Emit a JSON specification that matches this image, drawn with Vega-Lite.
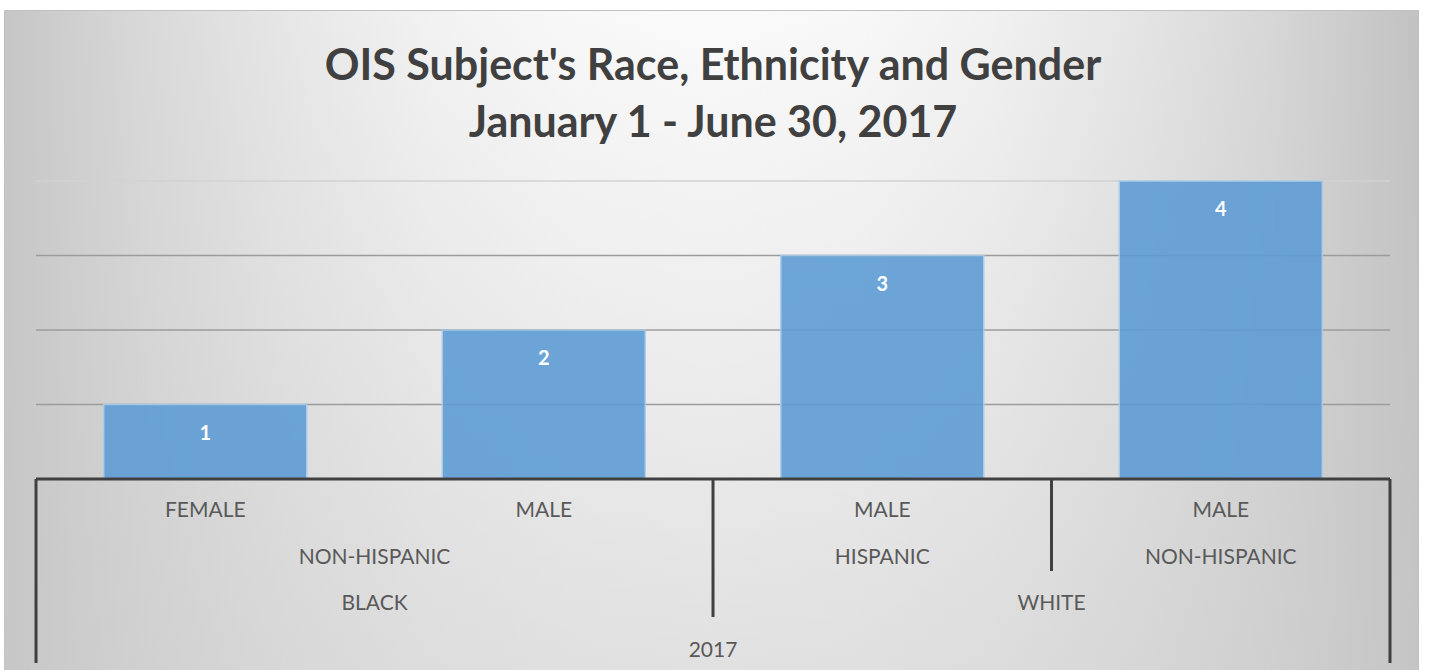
{
  "$schema": "https://vega.github.io/schema/vega-lite/v6.json",
  "width": 1414,
  "height": 660,
  "autosize": {"type": "none"},
  "padding": {"left": 4, "top": 10, "right": 12, "bottom": 0},
  "background": "#ffffff",
  "config": {
    "view": {
      "fill": {"gradient": "linear", "x1": 0, "y1": 0, "x2": 1, "y2": 0,
        "stops": [
          {"offset": 0, "color": "#c6c6c6"},
          {"offset": 0.1, "color": "#d9d9d9"},
          {"offset": 0.2, "color": "#e7e7e7"},
          {"offset": 0.3, "color": "#f2f2f2"},
          {"offset": 0.4, "color": "#f8f8f8"},
          {"offset": 0.5, "color": "#fafafa"},
          {"offset": 0.6, "color": "#f8f8f8"},
          {"offset": 0.7, "color": "#f1f1f1"},
          {"offset": 0.8, "color": "#e5e5e5"},
          {"offset": 0.9, "color": "#d6d6d6"},
          {"offset": 1, "color": "#c2c2c2"}
        ]},
      "stroke": "#c0c0c0",
      "strokeWidth": 1
    }
  },
  "title": {
    "text": ["OIS Subject's Race, Ethnicity and Gender", "January 1 - June 30, 2017"],
    "font": "Lato",
    "fontSize": 43,
    "fontWeight": "bold",
    "color": "#404040",
    "anchor": "middle",
    "lineHeight": 57,
    "offset": -136,
    "dx": 2
  },
  "datasets": {
    "bars": [
      {"key": "BLACK|NON-HISPANIC|FEMALE", "year": "2017", "race": "BLACK", "ethnicity": "NON-HISPANIC", "gender": "FEMALE", "count": 1},
      {"key": "BLACK|NON-HISPANIC|MALE", "year": "2017", "race": "BLACK", "ethnicity": "NON-HISPANIC", "gender": "MALE", "count": 2},
      {"key": "WHITE|HISPANIC|MALE", "year": "2017", "race": "WHITE", "ethnicity": "HISPANIC", "gender": "MALE", "count": 3},
      {"key": "WHITE|NON-HISPANIC|MALE", "year": "2017", "race": "WHITE", "ethnicity": "NON-HISPANIC", "gender": "MALE", "count": 4}
    ],
    "gridlines": [{"v": 0}, {"v": 1}, {"v": 2}, {"v": 3}, {"v": 4}],
    "labels": [
      {"level": "gender", "label": "FEMALE", "anchor": "BLACK|NON-HISPANIC|FEMALE", "span": "one"},
      {"level": "gender", "label": "MALE", "anchor": "BLACK|NON-HISPANIC|MALE", "span": "one"},
      {"level": "gender", "label": "MALE", "anchor": "WHITE|HISPANIC|MALE", "span": "one"},
      {"level": "gender", "label": "MALE", "anchor": "WHITE|NON-HISPANIC|MALE", "span": "one"},
      {"level": "ethnicity", "label": "NON-HISPANIC", "anchor": "BLACK|NON-HISPANIC|MALE", "span": "group"},
      {"level": "ethnicity", "label": "HISPANIC", "anchor": "WHITE|HISPANIC|MALE", "span": "one"},
      {"level": "ethnicity", "label": "NON-HISPANIC", "anchor": "WHITE|NON-HISPANIC|MALE", "span": "one"},
      {"level": "race", "label": "BLACK", "anchor": "BLACK|NON-HISPANIC|MALE", "span": "group"},
      {"level": "race", "label": "WHITE", "anchor": "WHITE|NON-HISPANIC|MALE", "span": "group"},
      {"level": "year", "label": "2017", "anchor": "WHITE|HISPANIC|MALE", "span": "group"}
    ],
    "dividers": [
      {"anchor": "BLACK|NON-HISPANIC|FEMALE", "side": "before", "top": "gender", "bottom": "year"},
      {"anchor": "WHITE|HISPANIC|MALE", "side": "before", "top": "gender", "bottom": "race"},
      {"anchor": "WHITE|NON-HISPANIC|MALE", "side": "before", "top": "gender", "bottom": "ethnicity"},
      {"anchor": "WHITE|NON-HISPANIC|MALE", "side": "after", "top": "gender", "bottom": "year"}
    ]
  },
  "resolve": {"scale": {"y": "independent"}},
  "layer": [
    {
      "data": {"values": [{"shade": "bottom"}]},
      "mark": {"type": "rect", "fill": {"gradient": "linear", "x1": 0, "y1": 0, "x2": 0, "y2": 1,
        "stops": [{"offset": 0, "color": "rgba(200,200,200,0)"}, {"offset": 1, "color": "rgba(200,200,200,0.5)"}]}},
      "encoding": {}
    },
    {
      "data": {"name": "gridlines"},
      "transform": [{"filter": "datum.v > 0"}],
      "mark": {"type": "rule", "strokeWidth": 1.5},
      "encoding": {
        "x": {"datum": "BLACK|NON-HISPANIC|FEMALE", "type": "nominal", "bandPosition": -0.3333, "axis": null,
          "scale": {"domain": ["BLACK|NON-HISPANIC|FEMALE", "BLACK|NON-HISPANIC|MALE", "WHITE|HISPANIC|MALE", "WHITE|NON-HISPANIC|MALE"],
            "range": [32, 1386], "paddingInner": 0.4, "paddingOuter": 0.2}},
        "x2": {"datum": "WHITE|NON-HISPANIC|MALE", "bandPosition": 1.3333},
        "y": {"field": "v", "type": "quantitative", "axis": null, "scale": {"domain": [0, 4], "range": [469, 171], "nice": false}},
        "color": {"condition": {"test": "datum.v === 4", "value": "#d2d2d2"}, "value": "#9c9c9c"}
      }
    },
    {
      "data": {"name": "bars"},
      "mark": {"type": "bar", "color": "#5B9BD5", "opacity": 0.88, "stroke": "#a8cbea", "strokeWidth": 1.5},
      "encoding": {
        "x": {"field": "key", "type": "nominal", "axis": null},
        "y": {"field": "count", "type": "quantitative", "axis": null,
          "scale": {"domain": [0, 4], "range": [469, 171], "nice": false}}
      }
    },
    {
      "data": {"name": "gridlines"},
      "transform": [{"filter": "datum.v === 0"}],
      "mark": {"type": "rule", "strokeWidth": 3, "color": "#404040"},
      "encoding": {
        "x": {"datum": "BLACK|NON-HISPANIC|FEMALE", "type": "nominal", "bandPosition": -0.3333, "axis": null},
        "x2": {"datum": "WHITE|NON-HISPANIC|MALE", "bandPosition": 1.3333},
        "y": {"field": "v", "type": "quantitative", "axis": null, "scale": {"domain": [0, 4], "range": [469, 171], "nice": false}}
      }
    },
    {
      "data": {"name": "bars"},
      "mark": {"type": "text", "color": "#ffffff", "font": "Lato", "fontWeight": "bold", "fontSize": 20, "dy": 29},
      "encoding": {
        "x": {"field": "key", "type": "nominal", "axis": null},
        "y": {"field": "count", "type": "quantitative", "axis": null, "scale": {"domain": [0, 4], "range": [469, 171], "nice": false}},
        "text": {"field": "count", "type": "quantitative"}
      }
    },
    {
      "data": {"name": "labels"},
      "transform": [{"filter": "datum.span === 'one'"}],
      "mark": {"type": "text", "color": "#595959", "font": "Lato", "fontSize": 21, "dy": 9},
      "encoding": {
        "x": {"field": "anchor", "type": "nominal", "axis": null, "bandPosition": 0.5},
        "y": {"field": "level", "type": "nominal", "axis": null,
          "scale": {"domain": ["gender", "ethnicity", "race", "year"], "range": [469, 655], "paddingInner": 0, "paddingOuter": 0}},
        "text": {"field": "label", "type": "nominal"}
      }
    },
    {
      "data": {"name": "labels"},
      "transform": [{"filter": "datum.span === 'group'"}],
      "mark": {"type": "text", "color": "#595959", "font": "Lato", "fontSize": 21, "dy": 9},
      "encoding": {
        "x": {"field": "anchor", "type": "nominal", "axis": null, "bandPosition": -0.3333},
        "y": {"field": "level", "type": "nominal", "axis": null,
          "scale": {"domain": ["gender", "ethnicity", "race", "year"], "range": [469, 655], "paddingInner": 0, "paddingOuter": 0}},
        "text": {"field": "label", "type": "nominal"}
      }
    },
    {
      "data": {"name": "dividers"},
      "transform": [{"filter": "datum.side === 'before'"}],
      "mark": {"type": "rule", "color": "#404040", "strokeWidth": 3},
      "encoding": {
        "x": {"field": "anchor", "type": "nominal", "axis": null, "bandPosition": -0.3333},
        "y": {"field": "top", "type": "nominal", "axis": null, "bandPosition": 0,
          "scale": {"domain": ["gender", "ethnicity", "race", "year"], "range": [469, 653], "paddingInner": 0, "paddingOuter": 0}},
        "y2": {"field": "bottom", "bandPosition": 1}
      }
    },
    {
      "data": {"name": "dividers"},
      "transform": [{"filter": "datum.side === 'after'"}],
      "mark": {"type": "rule", "color": "#404040", "strokeWidth": 3},
      "encoding": {
        "x": {"field": "anchor", "type": "nominal", "axis": null, "bandPosition": 1.3333},
        "y": {"field": "top", "type": "nominal", "axis": null, "bandPosition": 0,
          "scale": {"domain": ["gender", "ethnicity", "race", "year"], "range": [469, 653], "paddingInner": 0, "paddingOuter": 0}},
        "y2": {"field": "bottom", "bandPosition": 1}
      }
    }
  ]
}
